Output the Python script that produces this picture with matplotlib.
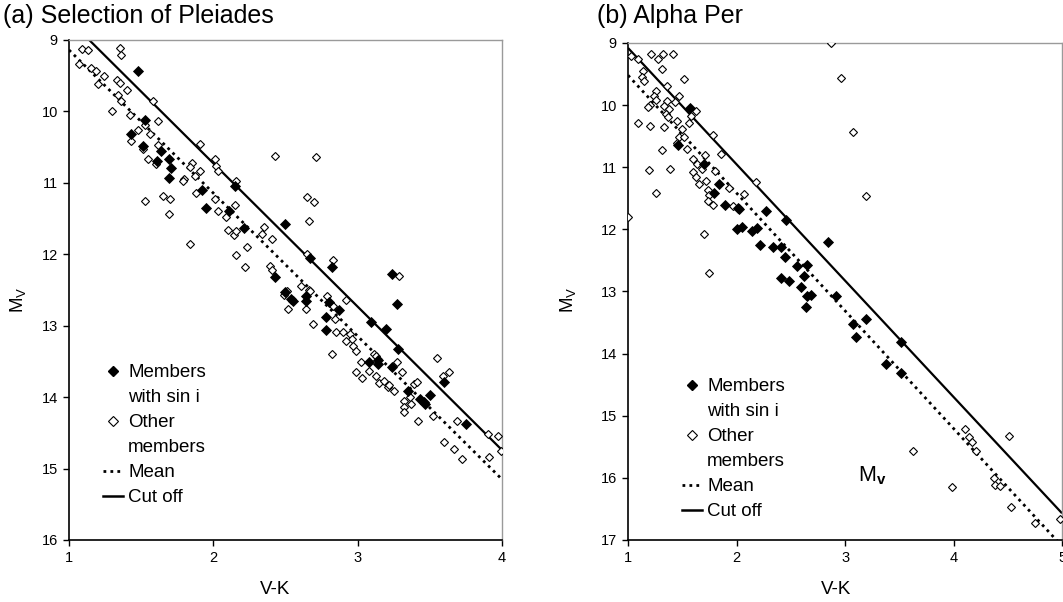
#!/usr/bin/env python3
"""Colour-magnitude diagrams (V-K vs M_V) for the Pleiades and Alpha Per."""

import matplotlib

matplotlib.use("Agg")
import matplotlib.pyplot as plt
from matplotlib.lines import Line2D

# (a) Pleiades
pleiades_member_vk = [1.48, 1.53, 1.43, 1.51, 1.64, 1.61, 1.69, 1.71, 1.69, 1.92, 1.95, 2.11, 2.21, 2.15,
                      2.50, 2.67, 2.82, 2.43, 2.50, 2.64, 3.24, 2.54, 2.55, 2.64, 2.80, 2.87, 2.78, 2.78,
                      3.27, 3.09, 3.20, 3.28, 3.08, 3.14, 3.14, 3.24, 3.35, 3.43, 3.46, 3.47, 3.50, 3.60, 3.75]
pleiades_member_mv = [9.43, 10.12, 10.31, 10.48, 10.56, 10.69, 10.66, 10.79, 10.93, 11.10, 11.35, 11.39, 11.63, 11.04,
                      11.58, 12.05, 12.18, 12.32, 12.53, 12.59, 12.28, 12.63, 12.66, 12.66, 12.67, 12.78, 12.88, 13.06,
                      12.69, 12.95, 13.05, 13.33, 13.51, 13.48, 13.53, 13.58, 13.92, 14.02, 14.07, 14.10, 13.97, 13.79, 14.38]

pleiades_other_vk = [1.09, 1.13, 1.35, 1.36, 1.07, 1.15, 1.19, 1.24, 1.20, 1.33, 1.35, 1.40, 1.34, 1.36, 1.30,
                     1.42, 1.58, 1.62, 1.48, 1.53, 1.56, 1.43, 1.62, 1.51, 1.55, 1.60, 1.91, 2.01, 2.02, 2.03,
                     2.16, 1.85, 1.91, 1.84, 1.87, 1.80, 1.79, 2.43, 2.71, 1.88, 2.01, 2.03, 2.09, 2.15, 2.10,
                     2.14, 2.16, 2.23, 2.16, 2.22, 2.35, 2.34, 2.41, 2.39, 2.41, 2.65, 2.70, 2.66, 2.65, 2.83,
                     3.29, 1.53, 1.65, 1.70, 1.69, 1.84, 2.61, 2.66, 2.79, 2.51, 2.49, 2.67, 2.52, 2.64, 2.69,
                     2.83, 2.92, 2.84, 2.85, 2.82, 2.90, 2.95, 2.96, 2.92, 2.97, 2.99, 3.02, 2.99, 3.03, 3.08,
                     3.11, 3.13, 3.13, 3.15, 3.18, 3.21, 3.22, 3.25, 3.27, 3.31, 3.32, 3.32, 3.32, 3.37, 3.36,
                     3.39, 3.41, 3.42, 3.52, 3.55, 3.59, 3.63, 3.60, 3.67, 3.72, 3.69, 3.90, 3.97, 3.91, 3.99]
pleiades_other_mv = [9.13, 9.14, 9.11, 9.21, 9.34, 9.39, 9.44, 9.50, 9.62, 9.56, 9.60, 9.70, 9.77, 9.85, 9.99,
                     10.05, 9.86, 10.14, 10.26, 10.19, 10.32, 10.42, 10.47, 10.52, 10.67, 10.74, 10.46, 10.67, 10.76, 10.84,
                     10.97, 10.72, 10.83, 10.78, 10.90, 10.94, 10.98, 10.62, 10.64, 11.14, 11.23, 11.40, 11.48, 11.31, 11.66,
                     11.73, 11.68, 11.90, 12.01, 12.18, 11.62, 11.72, 11.79, 12.16, 12.22, 11.20, 11.27, 11.53, 12.00, 12.08,
                     12.30, 11.25, 11.18, 11.23, 11.43, 11.86, 12.45, 12.50, 12.58, 12.52, 12.57, 12.52, 12.77, 12.77, 12.97,
                     12.72, 12.64, 12.91, 13.09, 13.40, 13.09, 13.12, 13.19, 13.22, 13.28, 13.36, 13.51, 13.65, 13.73, 13.63,
                     13.40, 13.43, 13.71, 13.80, 13.77, 13.86, 13.83, 13.91, 13.51, 13.65, 14.05, 14.14, 14.21, 14.10, 14.00,
                     13.81, 13.79, 14.33, 14.26, 13.45, 13.71, 13.65, 14.63, 14.72, 14.87, 14.34, 14.52, 14.54, 14.84, 14.76]

pleiades_mean_vk = [1.0, 4.0]
pleiades_mean_mv = [9.14, 15.15]
pleiades_cut_vk = [1.14, 4.0]
pleiades_cut_mv = [9.0, 14.74]

# (b) Alpha Per
alphaper_member_vk = [1.57, 1.46, 1.70, 1.84, 1.79, 1.89, 2.01, 2.02, 2.27, 2.46, 2.84, 2.00, 2.05, 2.14, 2.19,
                      2.22, 2.34, 2.41, 2.45, 2.56, 2.65, 2.62, 2.41, 2.48, 2.59, 2.65, 2.69, 2.92, 2.64, 3.07,
                      3.10, 3.19, 3.52, 3.38, 3.52]
alphaper_member_mv = [10.05, 10.65, 10.95, 11.27, 11.42, 11.61, 11.65, 11.67, 11.71, 11.85, 12.21, 12.00, 11.96, 12.02, 11.98,
                      12.25, 12.28, 12.29, 12.45, 12.59, 12.57, 12.75, 12.78, 12.83, 12.92, 13.07, 13.05, 13.07, 13.25, 13.52,
                      13.73, 13.44, 13.82, 14.16, 14.31]

alphaper_other_vk = [2.87, 2.96, 3.07, 3.19, 1.00, 1.03, 1.09, 1.21, 1.32, 1.41, 1.28, 1.31, 1.14, 1.13, 1.15,
                     1.52, 1.36, 1.26, 1.24, 1.26, 1.20, 1.18, 1.47, 1.43, 1.36, 1.33, 1.38, 1.35, 1.37, 1.63,
                     1.58, 1.56, 1.45, 1.50, 1.47, 1.52, 1.45, 1.54, 1.09, 1.20, 1.33, 1.78, 1.31, 1.71, 1.86,
                     1.60, 1.64, 1.68, 1.60, 1.63, 1.65, 1.72, 1.74, 1.75, 1.74, 1.78, 1.80, 1.19, 1.39, 1.26,
                     1.93, 2.07, 1.97, 2.18, 1.70, 1.75, 4.11, 4.14, 4.17, 4.21, 3.63, 4.51, 3.99, 4.37, 4.38,
                     4.43, 4.53, 4.75, 4.98]
alphaper_other_mv = [9.00, 9.56, 10.44, 11.46, 11.80, 9.21, 9.25, 9.18, 9.18, 9.18, 9.26, 9.42, 9.45, 9.54, 9.61,
                     9.58, 9.70, 9.78, 9.86, 9.91, 10.00, 10.03, 9.86, 9.95, 9.94, 10.01, 10.06, 10.15, 10.19, 10.10,
                     10.17, 10.29, 10.25, 10.38, 10.51, 10.52, 10.61, 10.70, 10.29, 10.33, 10.36, 10.48, 10.72, 10.81, 10.79,
                     10.87, 10.95, 11.03, 11.08, 11.15, 11.27, 11.22, 11.37, 11.44, 11.54, 11.60, 11.06, 11.05, 11.03, 11.41,
                     11.34, 11.43, 11.62, 11.23, 12.08, 12.71, 15.22, 15.35, 15.43, 15.57, 15.56, 15.32, 16.14, 16.00, 16.12,
                     16.13, 16.47, 16.72, 16.67]

alphaper_mean_vk = [1.0, 5.0]
alphaper_mean_mv = [9.52, 17.1]
alphaper_cut_vk = [1.0, 5.0]
alphaper_cut_mv = [9.08, 16.57]

MEAN_STYLE = (0, (1, 1.5))


def draw_panel(ax, member_vk, member_mv, other_vk, other_mv, mean_vk, mean_mv, cut_vk, cut_mv,
               xlim, ylim, legend_anchor):
    ax.plot(cut_vk, cut_mv, color="black", lw=1.6, solid_capstyle="butt", zorder=2)
    ax.plot(mean_vk, mean_mv, color="black", lw=2.0, linestyle=MEAN_STYLE, zorder=2)
    ax.plot(other_vk, other_mv, linestyle="none", marker="D", markersize=4.4,
            markerfacecolor="white", markeredgecolor="black", markeredgewidth=0.8, zorder=3)
    ax.plot(member_vk, member_mv, linestyle="none", marker="D", markersize=4.8,
            markerfacecolor="black", markeredgecolor="black", markeredgewidth=0.6, zorder=4)

    ax.set_xlim(*xlim)
    ax.set_ylim(*ylim)
    ax.set_xticks(range(int(xlim[0]), int(xlim[1]) + 1))
    ax.set_yticks(range(int(ylim[1]), int(ylim[0]) + 1))
    ax.tick_params(direction="out", length=4, width=1, labelsize=10.5, pad=4)
    for side in ("left", "bottom"):
        ax.spines[side].set_linewidth(1.2)
        ax.spines[side].set_color("black")
    for side in ("top", "right"):
        ax.spines[side].set_linewidth(1.0)
        ax.spines[side].set_color("#9a9a9a")

    blank = Line2D([], [], linestyle="none")
    handles = [
        Line2D([], [], linestyle="none", marker="D", markersize=5.2, markerfacecolor="black", markeredgecolor="black"),
        blank,
        Line2D([], [], linestyle="none", marker="D", markersize=5.2, markerfacecolor="white",
               markeredgecolor="black", markeredgewidth=0.8),
        blank,
        Line2D([], [], color="black", lw=2.0, linestyle=MEAN_STYLE),
        Line2D([], [], color="black", lw=1.8),
    ]
    labels = ["Members", "with sin i", "Other", "members", "Mean", "Cut off"]
    ax.legend(handles, labels, loc="upper left", bbox_to_anchor=legend_anchor, frameon=False,
              fontsize=13.5, handlelength=1.1, handletextpad=0.25, labelspacing=0.42,
              borderpad=0, borderaxespad=0)

    ax.set_xlabel("V-K", fontsize=13.5)
    ax.set_ylabel("$\\mathregular{M_V}$", fontsize=13.5)


def main():
    plt.rcParams.update({
        "font.family": ["Liberation Sans", "DejaVu Sans"],
        "mathtext.fontset": "custom",
        "mathtext.rm": "Liberation Sans",
        "mathtext.bf": "Liberation Sans:bold",
    })

    fig = plt.figure(figsize=(10.63, 6.02), dpi=100)
    fig.set_facecolor("white")
    ax_a = fig.add_axes([0.0649, 0.103, 0.4073, 0.8306])
    ax_b = fig.add_axes([0.5908, 0.103, 0.4083, 0.8256])

    draw_panel(ax_a, pleiades_member_vk, pleiades_member_mv, pleiades_other_vk, pleiades_other_mv,
               pleiades_mean_vk, pleiades_mean_mv, pleiades_cut_vk, pleiades_cut_mv,
               (1, 4), (16, 9), (0.078, 0.352))
    draw_panel(ax_b, alphaper_member_vk, alphaper_member_mv, alphaper_other_vk, alphaper_other_mv,
               alphaper_mean_vk, alphaper_mean_mv, alphaper_cut_vk, alphaper_cut_mv,
               (1, 5), (17, 9), (0.124, 0.326))

    ax_a.xaxis.set_label_coords(0.476, -0.082)
    ax_b.xaxis.set_label_coords(0.48, -0.082)
    ax_a.yaxis.set_label_coords(-0.095, 0.48)
    ax_b.yaxis.set_label_coords(-0.115, 0.483)

    ax_b.text(0.53, 0.13, "$\\mathregular{M}_{\\mathbf{v}}$", transform=ax_b.transAxes,
              fontsize=15.5, ha="left", va="center")

    fig.text(0.003, 0.973, "(a) Selection of Pleiades", fontsize=18, ha="left", va="center")
    fig.text(0.5616, 0.973, "(b) Alpha Per", fontsize=18, ha="left", va="center")

    fig.savefig("out.png", dpi=100, facecolor="white")
    plt.close(fig)


if __name__ == "__main__":
    main()
